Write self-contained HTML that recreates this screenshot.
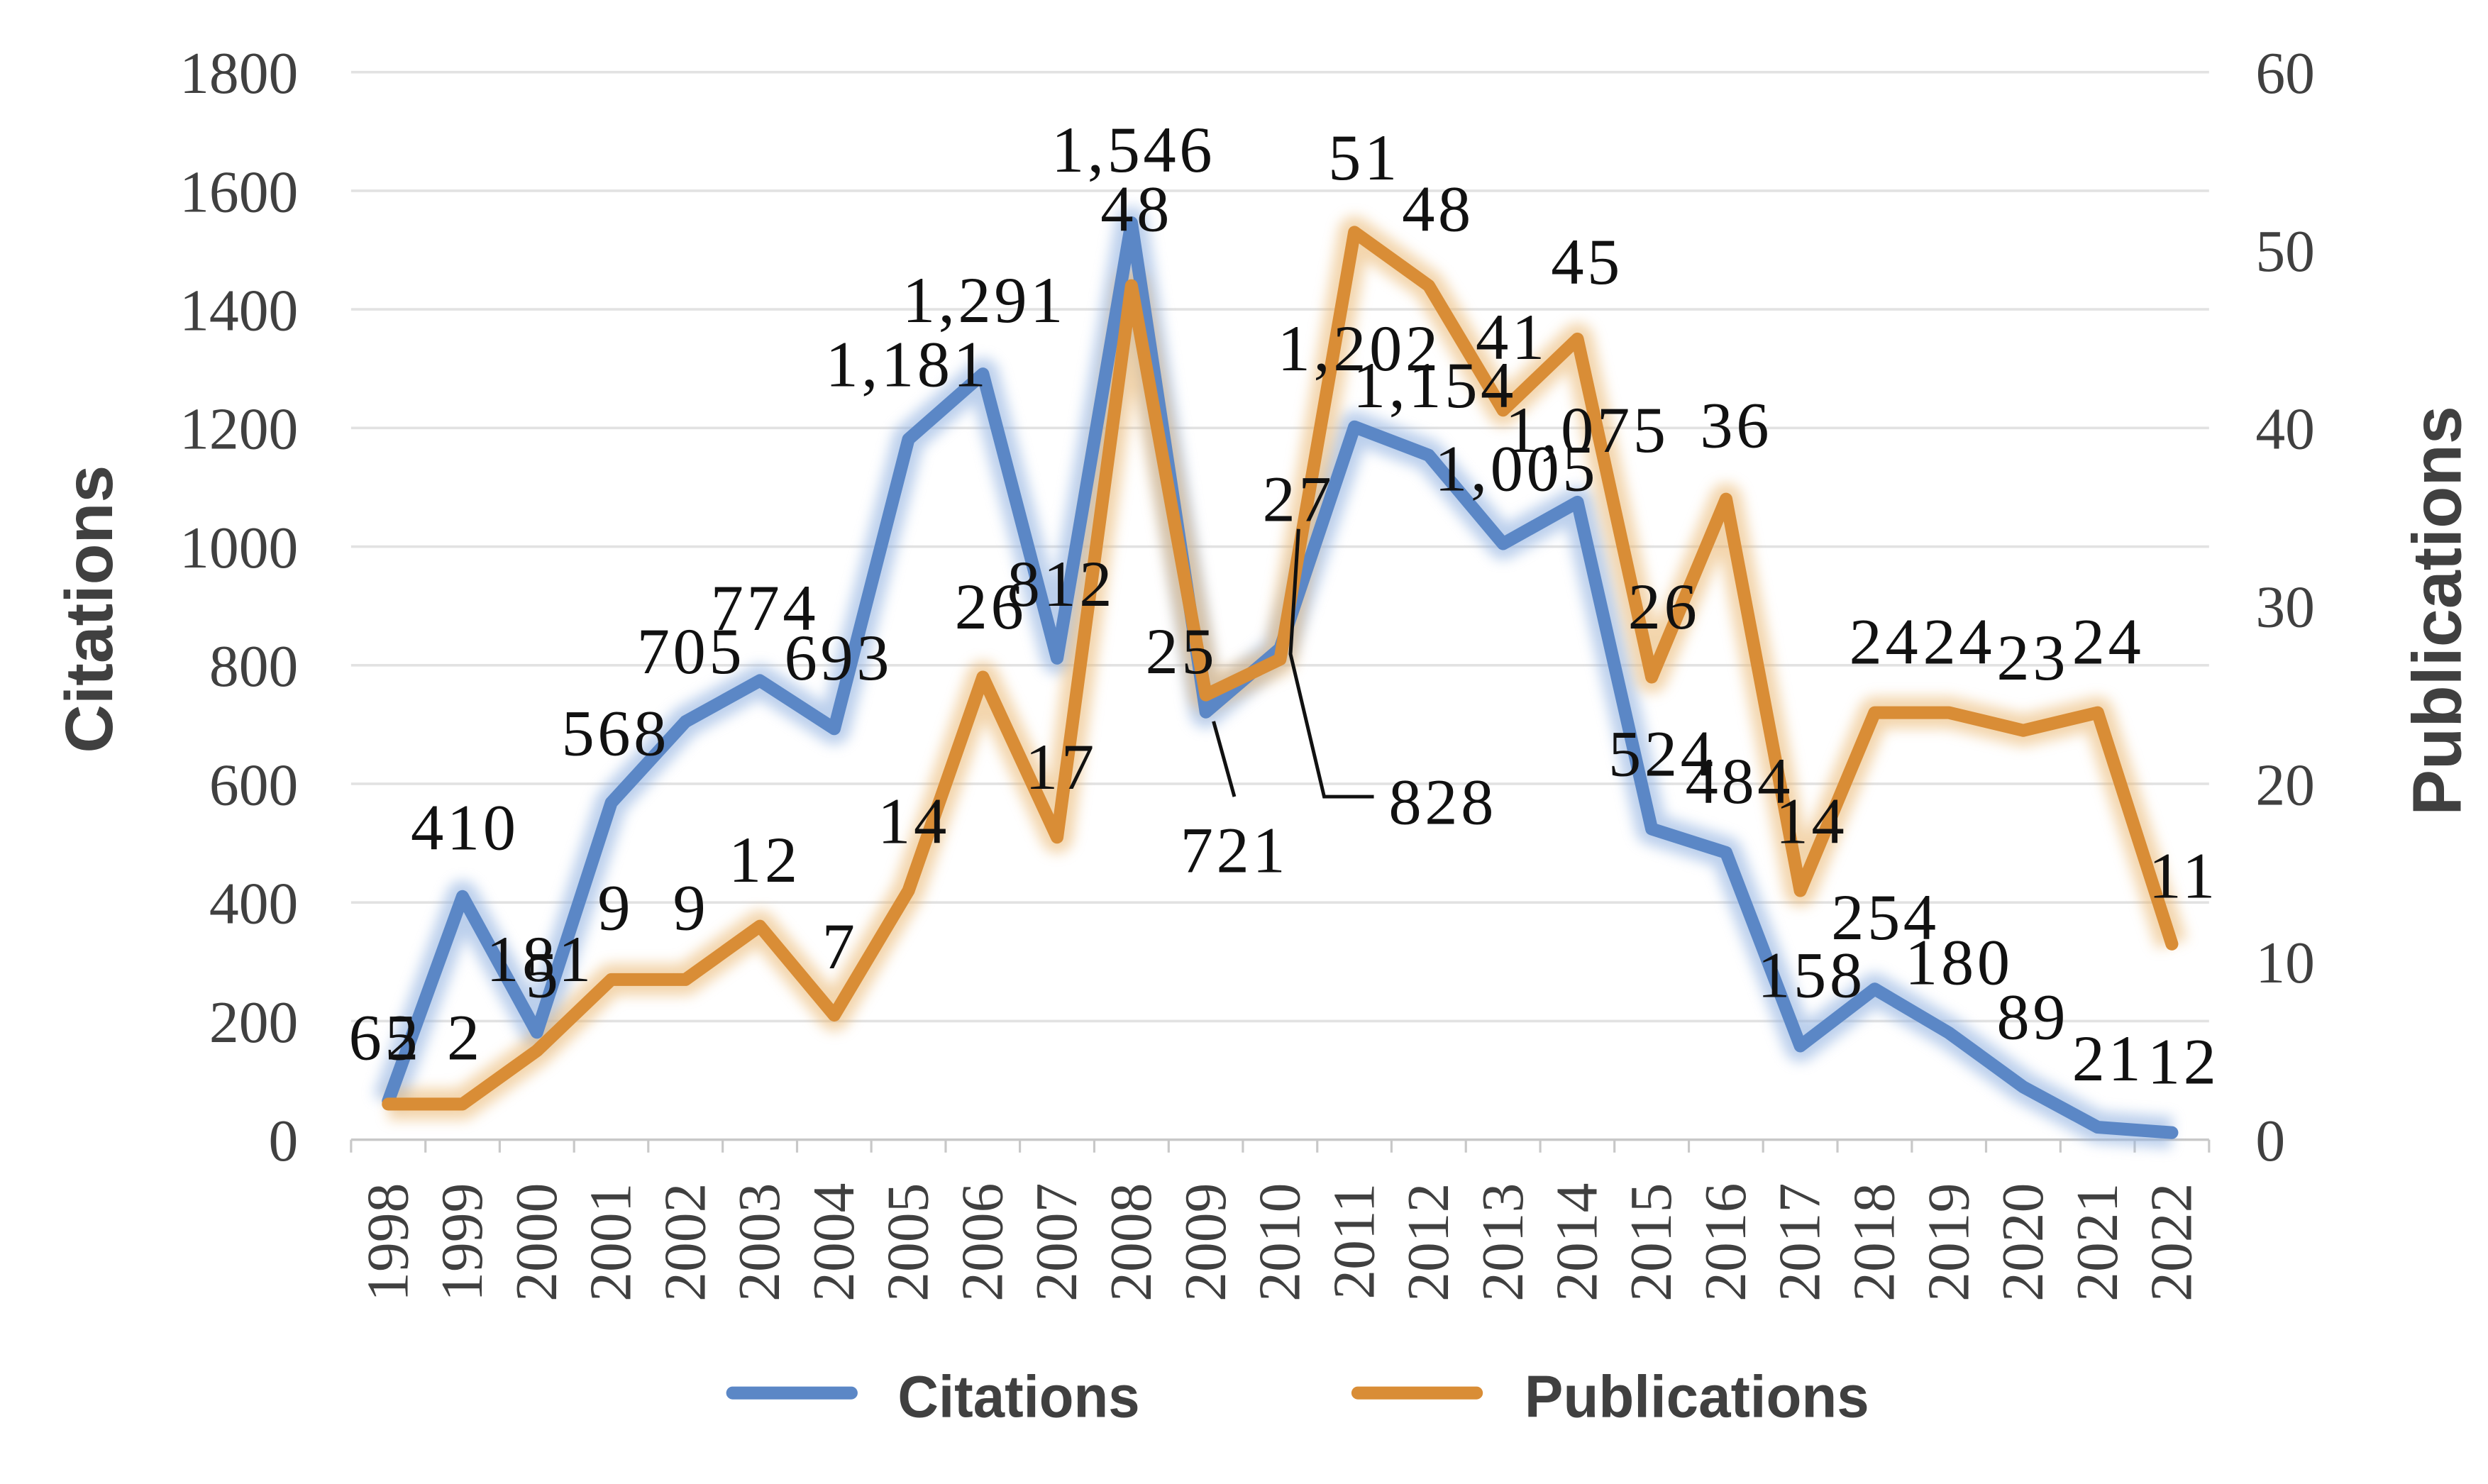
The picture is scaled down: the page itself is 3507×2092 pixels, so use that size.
<!DOCTYPE html>
<html><head><meta charset="utf-8"><style>
html,body{margin:0;padding:0;background:#fff;}
svg{display:block;}
.t{font-family:"Liberation Serif",serif;font-size:37px;fill:#404040;}
.d{font-family:"Liberation Serif",serif;font-size:41px;fill:#111;text-anchor:middle;letter-spacing:2px;}
.b{font-family:"Liberation Sans",sans-serif;font-weight:bold;fill:#404040;}
</style></head><body>
<svg width="3507" height="2092" viewBox="0 0 1552 925.8" preserveAspectRatio="none" xmlns="http://www.w3.org/2000/svg">
<defs>
<filter id="g" x="-10%" y="-10%" width="120%" height="120%"><feGaussianBlur stdDeviation="4"/></filter>
</defs>
<g stroke="#e2e2e2" stroke-width="1.6">
<line x1="219" x2="1378" y1="45" y2="45"/>
<line x1="219" x2="1378" y1="119" y2="119"/>
<line x1="219" x2="1378" y1="193" y2="193"/>
<line x1="219" x2="1378" y1="267" y2="267"/>
<line x1="219" x2="1378" y1="341" y2="341"/>
<line x1="219" x2="1378" y1="415" y2="415"/>
<line x1="219" x2="1378" y1="489" y2="489"/>
<line x1="219" x2="1378" y1="563" y2="563"/>
<line x1="219" x2="1378" y1="637" y2="637"/>
</g>
<line x1="219" x2="1378" y1="711" y2="711" stroke="#c8c8c8" stroke-width="1.6"/>
<path stroke="#c8c8c8" stroke-width="1.4" d="M219 711v8M265.4 711v8M311.7 711v8M358.1 711v8M404.4 711v8M450.8 711v8M497.2 711v8M543.5 711v8M589.9 711v8M636.2 711v8M682.6 711v8M729 711v8M775.3 711v8M821.7 711v8M868 711v8M914.4 711v8M960.8 711v8M1007.1 711v8M1053.5 711v8M1099.8 711v8M1146.2 711v8M1192.6 711v8M1238.9 711v8M1285.3 711v8M1331.6 711v8M1378 711v8"/>
<g class="t" text-anchor="end">
<text x="186" y="58">1800</text><text x="186" y="132">1600</text><text x="186" y="206">1400</text><text x="186" y="280">1200</text><text x="186" y="354">1000</text><text x="186" y="428">800</text><text x="186" y="502">600</text><text x="186" y="576">400</text><text x="186" y="650">200</text><text x="186" y="724">0</text>
</g>
<g class="t" text-anchor="start">
<text x="1407" y="58">60</text><text x="1407" y="169">50</text><text x="1407" y="280">40</text><text x="1407" y="391">30</text><text x="1407" y="502">20</text><text x="1407" y="613">10</text><text x="1407" y="724">0</text>
</g>
<g class="t" text-anchor="end">
<text transform="translate(254.2,738) rotate(-90)">1998</text>
<text transform="translate(300.5,738) rotate(-90)">1999</text>
<text transform="translate(346.9,738) rotate(-90)">2000</text>
<text transform="translate(393.3,738) rotate(-90)">2001</text>
<text transform="translate(439.6,738) rotate(-90)">2002</text>
<text transform="translate(486,738) rotate(-90)">2003</text>
<text transform="translate(532.4,738) rotate(-90)">2004</text>
<text transform="translate(578.7,738) rotate(-90)">2005</text>
<text transform="translate(625.1,738) rotate(-90)">2006</text>
<text transform="translate(671.4,738) rotate(-90)">2007</text>
<text transform="translate(717.8,738) rotate(-90)">2008</text>
<text transform="translate(764.2,738) rotate(-90)">2009</text>
<text transform="translate(810.5,738) rotate(-90)">2010</text>
<text transform="translate(856.9,738) rotate(-90)">2011</text>
<text transform="translate(903.2,738) rotate(-90)">2012</text>
<text transform="translate(949.6,738) rotate(-90)">2013</text>
<text transform="translate(996,738) rotate(-90)">2014</text>
<text transform="translate(1042.3,738) rotate(-90)">2015</text>
<text transform="translate(1088.7,738) rotate(-90)">2016</text>
<text transform="translate(1135,738) rotate(-90)">2017</text>
<text transform="translate(1181.4,738) rotate(-90)">2018</text>
<text transform="translate(1227.8,738) rotate(-90)">2019</text>
<text transform="translate(1274.1,738) rotate(-90)">2020</text>
<text transform="translate(1320.5,738) rotate(-90)">2021</text>
<text transform="translate(1366.8,738) rotate(-90)">2022</text>
</g>
<polyline fill="none" stroke="#8fb0e0" stroke-width="20" stroke-linejoin="round" opacity="0.6" filter="url(#g)" points="242.2,687 288.5,559.3 334.9,644 381.3,500.8 427.6,450.2 474,424.6 520.4,454.6 566.7,274 613.1,233.3 659.4,410.6 705.8,139 752.2,444.2 798.5,404.6 844.9,266.3 891.2,284 937.6,339.2 984,313.3 1030.3,517.1 1076.7,531.9 1123,652.5 1169.4,617 1215.8,644.4 1262.1,678.1 1308.5,703.2 1354.8,706.6"/>
<polyline fill="none" stroke="#e9b46a" stroke-width="20" stroke-linejoin="round" opacity="0.55" filter="url(#g)" points="242.2,688.8 288.5,688.8 334.9,655.5 381.3,611.1 427.6,611.1 474,577.8 520.4,633.3 566.7,555.6 613.1,422.4 659.4,522.3 705.8,178.2 752.2,433.5 798.5,411.3 844.9,144.9 891.2,178.2 937.6,255.9 984,211.5 1030.3,422.4 1076.7,311.4 1123,555.6 1169.4,444.6 1215.8,444.6 1262.1,455.7 1308.5,444.6 1354.8,588.9"/>
<polyline fill="none" stroke="#5b87c6" stroke-width="8" stroke-linejoin="round" stroke-linecap="round" points="242.2,687 288.5,559.3 334.9,644 381.3,500.8 427.6,450.2 474,424.6 520.4,454.6 566.7,274 613.1,233.3 659.4,410.6 705.8,139 752.2,444.2 798.5,404.6 844.9,266.3 891.2,284 937.6,339.2 984,313.3 1030.3,517.1 1076.7,531.9 1123,652.5 1169.4,617 1215.8,644.4 1262.1,678.1 1308.5,703.2 1354.8,706.6"/>
<polyline fill="none" stroke="#d98d36" stroke-width="8" stroke-linejoin="round" stroke-linecap="round" points="242.2,688.8 288.5,688.8 334.9,655.5 381.3,611.1 427.6,611.1 474,577.8 520.4,633.3 566.7,555.6 613.1,422.4 659.4,522.3 705.8,178.2 752.2,433.5 798.5,411.3 844.9,144.9 891.2,178.2 937.6,255.9 984,211.5 1030.3,422.4 1076.7,311.4 1123,555.6 1169.4,444.6 1215.8,444.6 1262.1,455.7 1308.5,444.6 1354.8,588.9"/>
<g stroke="#111" stroke-width="2.2" fill="none">
<polyline points="757,450 770,497"/>
<polyline points="810,330 805,408 826,497 857,497"/>
</g>
<g class="d">
<text x="240" y="661">65</text><text x="252" y="661">2</text>
<text x="290" y="530">410</text><text x="290" y="661">2</text>
<text x="337" y="612">181</text><text x="339" y="622">5</text>
<text x="384" y="471">568</text><text x="384" y="580">9</text>
<text x="431" y="420">705</text><text x="431" y="580">9</text>
<text x="477" y="393">774</text><text x="477" y="550">12</text>
<text x="523" y="424">693</text><text x="524" y="604">7</text>
<text x="566" y="241">1,181</text><text x="570" y="526">14</text>
<text x="614" y="201">1,291</text><text x="618" y="392">26</text>
<text x="662" y="378">812</text><text x="662" y="492">17</text>
<text x="707" y="107">1,546</text><text x="709" y="144">48</text>
<text x="737" y="420">25</text><text x="770" y="544">721</text>
<text x="810" y="325">27</text><text x="900" y="514">828</text>
<text x="851" y="112">51</text><text x="848" y="231">1,202</text>
<text x="897" y="144">48</text><text x="895" y="254">1,154</text>
<text x="943" y="224">41</text><text x="946" y="306">1,005</text>
<text x="990" y="177">45</text><text x="990" y="282">1,075</text>
<text x="1083" y="279">36</text><text x="1038" y="392">26</text>
<text x="1037" y="484">524</text><text x="1085" y="501">484</text>
<text x="1130" y="526">14</text><text x="1130" y="622">158</text>
<text x="1176" y="414">24</text><text x="1176" y="586">254</text>
<text x="1222" y="414">24</text><text x="1222" y="614">180</text>
<text x="1268" y="424">23</text><text x="1268" y="648">89</text>
<text x="1315" y="414">24</text><text x="1315" y="674">21</text>
<text x="1362" y="560">11</text><text x="1362" y="676">12</text>
</g>
<text class="b" font-size="42" text-anchor="middle" transform="translate(70,380) rotate(-90)">Citations</text>
<text class="b" font-size="43" text-anchor="middle" transform="translate(1535,381) rotate(-90)">Publications</text>
<line x1="457" x2="531" y1="869" y2="869" stroke="#5b87c6" stroke-width="8" stroke-linecap="round"/>
<text class="b" font-size="37" x="560" y="884" textLength="151" lengthAdjust="spacingAndGlyphs">Citations</text>
<line x1="847" x2="921" y1="869" y2="869" stroke="#d98d36" stroke-width="8" stroke-linecap="round"/>
<text class="b" font-size="37" x="951" y="884" textLength="215" lengthAdjust="spacingAndGlyphs">Publications</text>
</svg>
</body></html>
